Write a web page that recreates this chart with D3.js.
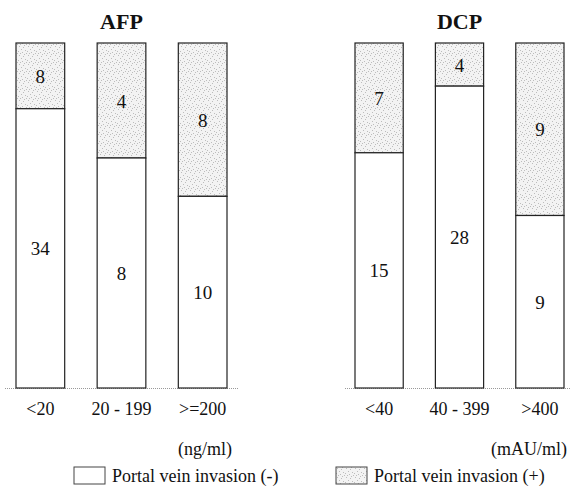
<!DOCTYPE html>
<html lang="en">
  <head>
    <meta charset="UTF-8" />
    <title>AFP / DCP portal vein invasion</title>
    <style>
      body { margin: 0; background: #fff; }
      svg text { font-family: "Liberation Serif", "Times New Roman", "DejaVu Serif", serif; fill: #111; }
    </style>
  </head>
  <body>
    <svg id="svg" width="570" height="486" font-family="Liberation Serif, Times New Roman, DejaVu Serif, serif"></svg>

    <script src="https://d3js.org/d3.v7.min.js"></script>
    <script>
      // data
      const afpCategories = ["<20", "20 - 199", ">=200"];
      const afpNegative = [34, 8, 10];
      const afpPositive = [8, 4, 8];

      const dcpCategories = ["<40", "40 - 399", ">400"];
      const dcpNegative = [15, 28, 9];
      const dcpPositive = [7, 4, 9];

      const svg = d3.select("#svg");
      const serif = "'Liberation Serif', 'Times New Roman', 'DejaVu Serif', serif";

      // stippled fill for the (+) part
      const defs = svg.append("defs");
      const pat = defs.append("pattern")
        .attr("id", "stipple")
        .attr("patternUnits", "userSpaceOnUse")
        .attr("width", 9)
        .attr("height", 9);
      pat.append("rect").attr("width", 9).attr("height", 9).attr("fill", "#f3f3f3");
      const dots = [[1, 1], [5, 2], [3, 4], [7, 5], [0, 6], [4, 7], [8, 8], [2, 8], [6, 0]];
      pat.selectAll("rect.d")
        .data(dots)
        .enter()
        .append("rect")
        .attr("class", "d")
        .attr("x", (d) => d[0])
        .attr("y", (d) => d[1])
        .attr("width", 1)
        .attr("height", 1)
        .attr("fill", "#bdbdbd");

      const y = d3.scaleLinear().domain([0, 1]).range([388, 43]);

      function panel(cfg) {
        const x = d3.scaleBand()
          .domain(cfg.categories)
          .range([cfg.x0, cfg.x1])
          .paddingInner(0.4)
          .paddingOuter(0);

        const g = svg.append("g").style("font-family", serif);

        const rows = cfg.categories.map((c, i) => ({
          cat: c,
          neg: cfg.neg[i],
          pos: cfg.pos[i],
          share: cfg.neg[i] / (cfg.neg[i] + cfg.pos[i]),
        }));

        // baseline (dotted)
        g.append("line")
          .attr("x1", cfg.lineX0)
          .attr("x2", cfg.lineX1)
          .attr("y1", y(0) + 0.5)
          .attr("y2", y(0) + 0.5)
          .attr("stroke", "#999")
          .attr("stroke-dasharray", "1,1");

        // positive (top) part
        g.selectAll("rect.pos")
          .data(rows)
          .enter()
          .append("rect")
          .attr("class", "pos")
          .attr("x", (d) => x(d.cat))
          .attr("y", y(1))
          .attr("width", x.bandwidth())
          .attr("height", (d) => y(d.share) - y(1))
          .attr("fill", "url(#stipple)")
          .attr("stroke", "#222")
          .attr("stroke-width", 1.2);

        // negative (bottom) part
        g.selectAll("rect.neg")
          .data(rows)
          .enter()
          .append("rect")
          .attr("class", "neg")
          .attr("x", (d) => x(d.cat))
          .attr("y", (d) => y(d.share))
          .attr("width", x.bandwidth())
          .attr("height", (d) => y(0) - y(d.share))
          .attr("fill", "#fff")
          .attr("stroke", "#222")
          .attr("stroke-width", 1.2);

        g.selectAll("text.pos")
          .data(rows)
          .enter()
          .append("text")
          .attr("x", (d) => x(d.cat) + x.bandwidth() / 2)
          .attr("y", (d) => (y(1) + y(d.share)) / 2 + 7)
          .attr("text-anchor", "middle")
          .attr("font-size", 19)
          .text((d) => d.pos);

        g.selectAll("text.neg")
          .data(rows)
          .enter()
          .append("text")
          .attr("x", (d) => x(d.cat) + x.bandwidth() / 2)
          .attr("y", (d) => (y(0) + y(d.share)) / 2 + 7)
          .attr("text-anchor", "middle")
          .attr("font-size", 19)
          .text((d) => d.neg);

        // category labels
        g.selectAll("text.cat")
          .data(rows)
          .enter()
          .append("text")
          .attr("x", (d) => x(d.cat) + x.bandwidth() / 2)
          .attr("y", 415)
          .attr("text-anchor", "middle")
          .attr("font-size", 18)
          .text((d) => d.cat);

        g.append("text")
          .attr("x", (cfg.x0 + cfg.x1) / 2)
          .attr("y", 29)
          .attr("text-anchor", "middle")
          .attr("font-size", 22)
          .attr("font-weight", "bold")
          .text(cfg.title);

        g.append("text")
          .attr("x", cfg.unitX)
          .attr("y", 455)
          .attr("text-anchor", "end")
          .attr("font-size", 18)
          .text(cfg.unit);
      }

      panel({
        title: "AFP", unit: "(ng/ml)", unitX: 232,
        categories: afpCategories, neg: afpNegative, pos: afpPositive,
        x0: 16, x1: 227, lineX0: 5, lineX1: 238,
      });
      panel({
        title: "DCP", unit: "(mAU/ml)", unitX: 567,
        categories: dcpCategories, neg: dcpNegative, pos: dcpPositive,
        x0: 355, x1: 564, lineX0: 345, lineX1: 570,
      });

      // legend
      const legend = [
        { label: "Portal vein invasion (-)", fill: "#fff", x: 74 },
        { label: "Portal vein invasion (+)", fill: "url(#stipple)", x: 336 },
      ];
      const lg = svg.selectAll("g.legend")
        .data(legend)
        .enter()
        .append("g")
        .attr("class", "legend")
        .style("font-family", serif)
        .attr("transform", (d) => `translate(${d.x},467)`);
      lg.append("rect")
        .attr("width", 31)
        .attr("height", 17)
        .attr("fill", (d) => d.fill)
        .attr("stroke", "#444");
      lg.append("text")
        .attr("x", 38)
        .attr("y", 15)
        .attr("font-size", 18)
        .text((d) => d.label);
    </script>
  </body>
</html>
